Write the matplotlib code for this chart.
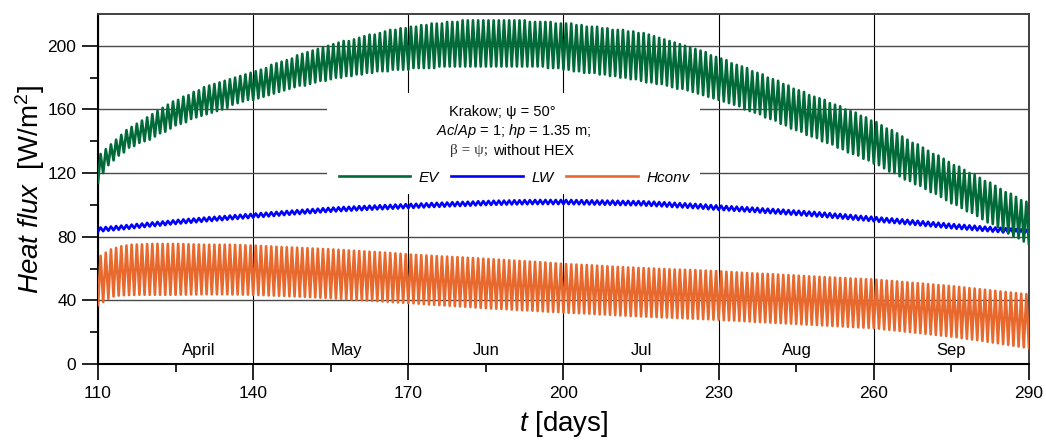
import numpy as np
import matplotlib.pyplot as plt
from matplotlib.patches import Rectangle

plt.rcParams['font.family'] = ['Liberation Sans', 'DejaVu Sans']
plt.rcParams['mathtext.fontset'] = 'custom'
plt.rcParams['mathtext.rm'] = 'Liberation Sans'
plt.rcParams['mathtext.it'] = 'Liberation Sans:italic'

# day of year, one daily cycle each (trough at the day, peak half a day later)
days = np.arange(110, 291)

# EV - daily maxima / minima [W/m2]
ev_hi = [132, 135, 138, 141, 144, 147, 149, 151, 153, 155,
         157, 159, 161, 163, 165, 166, 168, 169, 171, 172,
         174, 175, 176, 177, 178, 179, 180, 181, 182, 183,
         184, 185, 186, 188, 189, 190, 191, 192, 194, 195,
         196, 197, 198, 199, 200, 201, 202, 203, 203, 204,
         205, 206, 207, 207, 208, 209, 210, 210, 211, 211,
         212, 212, 213, 213, 214, 214, 214, 215, 215, 215,
         216, 216, 216, 216, 216, 216, 216, 216, 216, 216,
         216, 216, 216, 215, 215, 215, 215, 215, 214, 214,
         214, 214, 213, 213, 212, 212, 212, 211, 211, 210,
         210, 210, 209, 209, 208, 208, 207, 206, 205, 204,
         203, 202, 201, 200, 199, 198, 197, 196, 194, 193,
         192, 191, 189, 188, 187, 186, 184, 183, 182, 180,
         179, 178, 176, 175, 173, 172, 171, 169, 168, 167,
         166, 164, 163, 162, 160, 159, 158, 156, 155, 153,
         152, 150, 148, 147, 145, 143, 141, 139, 138, 136,
         134, 132, 131, 129, 127, 125, 124, 122, 120, 119,
         117, 115, 114, 112, 110, 108, 107, 105, 103, 102,
         100]
ev_lo = [114, 120, 125, 128, 131, 133, 136, 137, 139, 140,
         141, 143, 145, 146, 148, 150, 151, 152, 154, 155,
         156, 157, 158, 159, 160, 161, 163, 164, 165, 166,
         166, 167, 168, 169, 170, 171, 172, 173, 174, 175,
         175, 176, 177, 178, 178, 179, 180, 180, 181, 181,
         182, 182, 183, 183, 184, 184, 184, 185, 185, 185,
         185, 186, 186, 186, 186, 186, 187, 187, 187, 187,
         187, 187, 187, 187, 187, 187, 187, 187, 187, 187,
         187, 187, 187, 187, 187, 187, 187, 186, 186, 186,
         185, 185, 184, 184, 183, 183, 183, 182, 182, 181,
         181, 180, 180, 179, 179, 178, 177, 177, 176, 176,
         175, 174, 173, 173, 172, 171, 170, 169, 168, 167,
         166, 165, 164, 163, 162, 160, 159, 158, 157, 155,
         154, 153, 151, 150, 148, 147, 146, 144, 143, 142,
         140, 139, 138, 136, 135, 133, 132, 131, 129, 128,
         126, 125, 123, 121, 120, 118, 116, 115, 113, 112,
         110, 108, 107, 105, 103, 101, 100, 98, 96, 95,
         93, 91, 89, 88, 86, 84, 82, 80, 79, 77,
         75]

# LW - daily maxima / minima [W/m2]
lw_hi = [85.8, 86.1, 86.4, 86.7, 87.0, 87.3, 87.6, 88.0, 88.3, 88.7,
         89.0, 89.3, 89.6, 89.9, 90.3, 90.6, 90.9, 91.2, 91.4, 91.7,
         92.0, 92.3, 92.5, 92.8, 93.0, 93.3, 93.6, 93.8, 94.1, 94.3,
         94.6, 94.9, 95.1, 95.4, 95.6, 95.9, 96.2, 96.4, 96.7, 96.9,
         97.2, 97.4, 97.6, 97.9, 98.1, 98.3, 98.5, 98.7, 98.8, 99.0,
         99.2, 99.3, 99.5, 99.6, 99.8, 99.9, 100.0, 100.2, 100.3, 100.5,
         100.6, 100.7, 100.9, 101.0, 101.2, 101.3, 101.4, 101.5, 101.7, 101.8,
         101.9, 102.0, 102.1, 102.3, 102.4, 102.5, 102.6, 102.7, 102.7, 102.8,
         102.9, 102.9, 103.0, 103.0, 103.1, 103.1, 103.1, 103.1, 103.1, 103.1,
         103.1, 103.1, 103.0, 103.0, 102.9, 102.9, 102.8, 102.8, 102.7, 102.7,
         102.6, 102.5, 102.5, 102.4, 102.4, 102.3, 102.1, 102.0, 101.8, 101.7,
         101.5, 101.3, 101.1, 101.0, 100.8, 100.6, 100.4, 100.2, 99.9, 99.7,
         99.5, 99.3, 99.1, 98.9, 98.7, 98.5, 98.3, 98.1, 97.8, 97.6,
         97.4, 97.2, 97.0, 96.7, 96.5, 96.3, 96.1, 95.8, 95.6, 95.3,
         95.1, 94.8, 94.5, 94.3, 94.0, 93.7, 93.4, 93.1, 92.9, 92.6,
         92.3, 92.0, 91.7, 91.5, 91.2, 90.9, 90.6, 90.3, 90.0, 89.7,
         89.4, 89.1, 88.8, 88.5, 88.2, 87.9, 87.6, 87.4, 87.1, 86.9,
         86.6, 86.3, 86.1, 85.8, 85.6, 85.3, 85.1, 84.8, 84.6, 84.3,
         84.1]
lw_lo = [83.2, 83.5, 83.8, 84.1, 84.4, 84.7, 85.0, 85.4, 85.7, 86.1,
         86.4, 86.7, 87.0, 87.3, 87.7, 88.0, 88.3, 88.6, 88.8, 89.1,
         89.4, 89.7, 89.9, 90.2, 90.4, 90.7, 91.0, 91.2, 91.5, 91.7,
         92.0, 92.3, 92.5, 92.8, 93.0, 93.3, 93.6, 93.8, 94.1, 94.3,
         94.6, 94.8, 95.0, 95.3, 95.5, 95.7, 95.9, 96.1, 96.2, 96.4,
         96.6, 96.7, 96.9, 97.0, 97.2, 97.3, 97.4, 97.6, 97.7, 97.9,
         98.0, 98.1, 98.3, 98.4, 98.6, 98.7, 98.8, 98.9, 99.1, 99.2,
         99.3, 99.4, 99.5, 99.7, 99.8, 99.9, 100.0, 100.1, 100.1, 100.2,
         100.3, 100.3, 100.4, 100.4, 100.5, 100.5, 100.5, 100.5, 100.5, 100.5,
         100.5, 100.5, 100.4, 100.4, 100.3, 100.3, 100.2, 100.2, 100.1, 100.1,
         100.0, 99.9, 99.9, 99.8, 99.8, 99.7, 99.5, 99.4, 99.2, 99.1,
         98.9, 98.7, 98.5, 98.4, 98.2, 98.0, 97.8, 97.6, 97.3, 97.1,
         96.9, 96.7, 96.5, 96.3, 96.1, 95.9, 95.7, 95.5, 95.2, 95.0,
         94.8, 94.6, 94.4, 94.1, 93.9, 93.7, 93.5, 93.2, 93.0, 92.7,
         92.5, 92.2, 91.9, 91.7, 91.4, 91.1, 90.8, 90.5, 90.3, 90.0,
         89.7, 89.4, 89.1, 88.9, 88.6, 88.3, 88.0, 87.7, 87.4, 87.1,
         86.8, 86.5, 86.2, 85.9, 85.6, 85.3, 85.0, 84.8, 84.5, 84.3,
         84.0, 83.7, 83.5, 83.2, 83.0, 82.7, 82.5, 82.2, 82.0, 81.7,
         81.5]

# Hconv - daily maxima / minima [W/m2]
hc_hi = [68, 70, 72, 73, 74, 74.5, 75, 75.1, 75.2, 75.4,
         75.5, 75.5, 75.5, 75.5, 75.5, 75.5, 75.4, 75.3, 75.2, 75.1,
         75, 75, 75, 75, 75, 75, 74.9, 74.8, 74.6, 74.5,
         74.4, 74.2, 74, 73.9, 73.7, 73.5, 73.4, 73.2, 73.1, 72.9,
         72.8, 72.6, 72.5, 72.3, 72.2, 72, 71.8, 71.6, 71.4, 71.2,
         71, 70.8, 70.6, 70.4, 70.2, 70, 69.8, 69.5, 69.3, 69,
         68.8, 68.6, 68.4, 68.2, 68, 67.8, 67.6, 67.5, 67.3, 67.2,
         67, 66.8, 66.6, 66.4, 66.2, 66, 65.8, 65.6, 65.4, 65.2,
         65, 64.8, 64.6, 64.4, 64.2, 64, 63.8, 63.5, 63.3, 63,
         62.8, 62.6, 62.5, 62.3, 62.2, 62, 61.8, 61.6, 61.4, 61.2,
         61, 60.9, 60.7, 60.6, 60.4, 60.3, 60.1, 60, 59.8, 59.7,
         59.5, 59.4, 59.3, 59.2, 59.1, 59, 58.8, 58.7, 58.5, 58.4,
         58.2, 58, 57.8, 57.6, 57.4, 57.2, 57, 56.9, 56.7, 56.6,
         56.4, 56.2, 56, 55.9, 55.7, 55.5, 55.3, 55.1, 55, 54.8,
         54.6, 54.4, 54.3, 54.1, 54, 53.8, 53.6, 53.5, 53.3, 53.2,
         53, 52.7, 52.4, 52.2, 51.9, 51.6, 51.3, 51, 50.8, 50.5,
         50.2, 49.9, 49.6, 49.4, 49.1, 48.8, 48.4, 48.1, 47.7, 47.4,
         47, 46.7, 46.3, 46, 45.6, 45.3, 44.9, 44.6, 44.2, 43.9,
         43.5]
hc_lo = [37, 39, 41, 42.5, 43, 43.2, 43.3, 43.4, 43.5, 43.5,
         43.5, 43.5, 43.5, 43.5, 43.5, 43.5, 43.6, 43.6, 43.7, 43.7,
         43.8, 43.8, 43.8, 43.8, 43.8, 43.8, 43.7, 43.7, 43.6, 43.6,
         43.5, 43.4, 43.3, 43.1, 43, 42.9, 42.8, 42.6, 42.5, 42.3,
         42.2, 42, 41.9, 41.7, 41.6, 41.4, 41.2, 41, 40.7, 40.5,
         40.3, 40.1, 39.9, 39.7, 39.5, 39.3, 39.1, 38.9, 38.7, 38.5,
         38.3, 38.1, 37.9, 37.6, 37.4, 37.2, 37, 36.8, 36.6, 36.4,
         36.2, 36, 35.8, 35.5, 35.3, 35.1, 34.9, 34.7, 34.6, 34.4,
         34.2, 34, 33.8, 33.7, 33.5, 33.3, 33.1, 32.9, 32.8, 32.6,
         32.4, 32.2, 32.1, 31.9, 31.8, 31.6, 31.4, 31.2, 31.1, 30.9,
         30.7, 30.5, 30.4, 30.2, 30.1, 29.9, 29.8, 29.6, 29.5, 29.3,
         29.2, 29.1, 28.9, 28.8, 28.6, 28.5, 28.4, 28.2, 28.1, 27.9,
         27.8, 27.6, 27.4, 27.3, 27.1, 26.9, 26.7, 26.5, 26.4, 26.2,
         26, 25.8, 25.7, 25.5, 25.4, 25.2, 25, 24.8, 24.7, 24.5,
         24.3, 24.1, 23.9, 23.8, 23.6, 23.4, 23.2, 23, 22.9, 22.7,
         22.5, 22.2, 21.8, 21.5, 21.1, 20.8, 20.4, 20.1, 19.7, 19.4,
         19, 18.6, 18.3, 17.9, 17.6, 17.2, 16.8, 16.3, 15.9, 15.4,
         15, 14.5, 14, 13.5, 13, 12.5, 12, 11.5, 11, 10.5,
         10]

months = ['April', 'May', 'Jun', 'Jul', 'Aug', 'Sep']
month_pos = [129.5, 158, 185, 215, 245.2, 274.9]

c_ev = '#006a38'
c_lw = '#0000ff'
c_hc = '#e8692e'


def zigzag(lo, hi):
    x = np.column_stack([days, days + 0.5]).ravel()
    y = np.column_stack([lo, hi]).ravel()
    return x, y


fig = plt.figure(figsize=(10.46, 4.41), dpi=100)
ax = fig.add_axes([0.0937, 0.1746, 0.89, 0.7937])

x, y = zigzag(hc_lo, hc_hi)
l_hc, = ax.plot(x, y, color=c_hc, lw=1.9, zorder=3)
x, y = zigzag(lw_lo, lw_hi)
l_lw, = ax.plot(x, y, color=c_lw, lw=1.9, zorder=4)
x, y = zigzag(ev_lo, ev_hi)
l_ev, = ax.plot(x, y, color=c_ev, lw=1.9, zorder=5)

ax.set_xlim(110, 290)
ax.set_ylim(0, 220)
ax.set_xticks(range(110, 291, 30))
ax.set_xticks(range(125, 290, 30), minor=True)
ax.set_yticks(range(0, 201, 40))
ax.set_yticks(range(20, 201, 40), minor=True)
ax.tick_params(which='major', direction='out', length=11.5, width=1.2,
               labelsize=12.5, pad=4)
ax.tick_params(which='minor', direction='out', length=6, width=1.2)

ax.set_axisbelow(True)
ax.grid(axis='x', which='major', color='black', lw=0.8)
ax.grid(axis='y', which='major', color='#4a4a4a', lw=1.0)
for s in ['left', 'bottom']:
    ax.spines[s].set_linewidth(1.5)
for s in ['top', 'right']:
    ax.spines[s].set_linewidth(1.4)
    ax.spines[s].set_color('#404040')

# white panel behind the annotation
ax.add_patch(Rectangle((154.3, 106.6), 72.1, 63.7, facecolor='white',
                       edgecolor='none', zorder=1))

for m, p in zip(months, month_pos):
    ax.text(p, 8.2, m, ha='center', va='center', fontsize=12)

ax.text(188.1, 158.2, 'Krakow; ψ = 50°', ha='center', va='center', fontsize=10.5)
ax.text(190.3, 146.6, r'$\it{Ac/Ap}$ = 1; $\it{hp}$ = 1.35 m;',
        ha='center', va='center', fontsize=10.5)
ax.text(181.7, 133.9, 'β = ψ;', ha='center', va='center', fontsize=11,
        family=['Liberation Serif', 'DejaVu Serif'], color='#333333')
ax.text(186.4, 133.9, 'without HEX', ha='left', va='center', fontsize=10.5)

ax.legend([l_ev, l_lw, l_hc], ['EV', 'LW', 'Hconv'], ncol=3, frameon=False,
          loc='center', bbox_to_anchor=(0.4468, 0.532),
          prop={'style': 'italic', 'size': 11}, handlelength=4.7,
          handletextpad=0.55, columnspacing=0.8)

ax.set_xlabel(r'$\it{t}$ [days]', fontsize=20, labelpad=6)
ax.set_ylabel(r'$\it{Heat\ flux}$  [W/m$^2$]', fontsize=20, labelpad=0)

fig.savefig('out.png', dpi=100)
